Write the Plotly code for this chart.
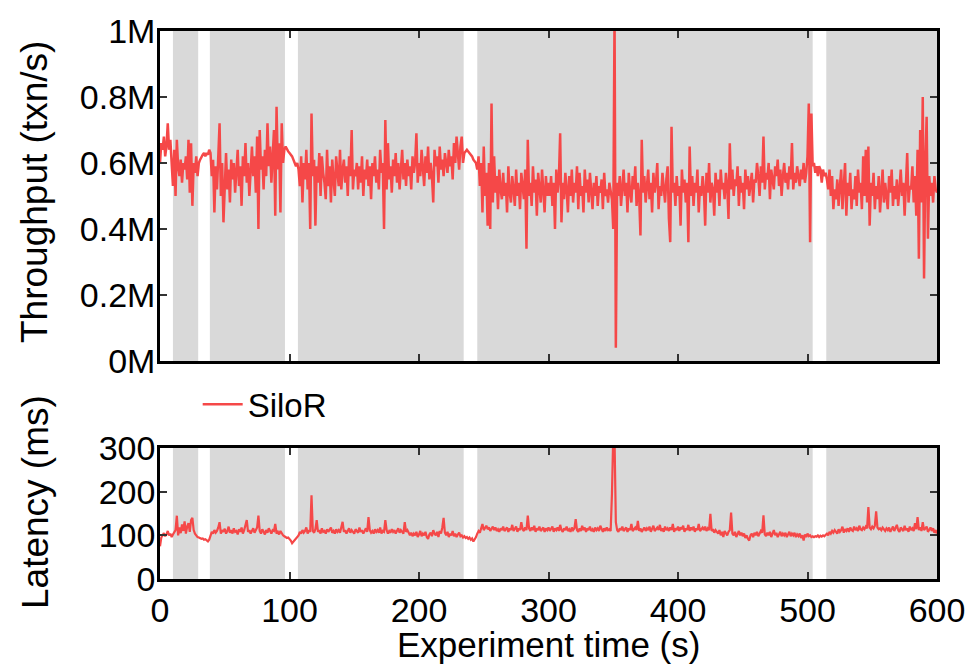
import plotly.graph_objects as go

# Throughput (thousand txn/s), one sample per second, t = 0 .. 600
THROUGHPUT_K = [
    600, 660, 640, 680, 620, 650, 720, 640, 670, 600,   # 0
    530, 640, 500, 670, 590, 560, 610, 540, 600, 580,   # 10
    620, 550, 670, 510, 660, 470, 600, 570, 620, 560,   # 20
    600, 610, 620, 625, 630, 620, 630, 625, 640, 630,   # 30
    560, 610, 450, 590, 520, 640, 720, 500, 600, 420,   # 40
    560, 630, 520, 580, 480, 610, 550, 600, 510, 570,   # 50
    640, 530, 590, 470, 620, 560, 660, 540, 600, 500,   # 60
    580, 650, 560, 620, 510, 680, 400, 700, 580, 620,   # 70
    520, 640, 560, 720, 590, 650, 540, 630, 700, 440,   # 80
    770, 580, 660, 450, 720, 600, 640, 650, 640, 635,   # 90
    630, 625, 620, 610, 600, 590, 600, 580, 530, 620,   # 100
    480, 600, 550, 640, 520, 600, 400, 750, 560, 610,   # 110
    410, 590, 540, 630, 500, 620, 570, 540, 490, 640,   # 120
    530, 590, 480, 610, 550, 500, 620, 570, 530, 640,   # 130
    520, 580, 610, 540, 590, 500, 620, 560, 700, 520,   # 140
    580, 560, 600, 520, 590, 540, 620, 500, 580, 550,   # 150
    610, 530, 590, 490, 600, 560, 620, 540, 580, 520,   # 160
    640, 570, 600, 400, 730, 520, 660, 550, 590, 510,   # 170
    610, 560, 630, 540, 600, 520, 580, 640, 550, 600,   # 180
    530, 610, 560, 590, 520, 620, 570, 600, 690, 540,   # 190
    600, 560, 640, 580, 530, 620, 570, 650, 550, 600,   # 200
    560, 480, 640, 590, 620, 540, 650, 580, 610, 560,   # 210
    630, 600, 570, 640, 590, 620, 550, 660, 600, 680,   # 220
    610, 580, 650, 680, 600, 630, 635, 640, 635, 630,   # 230
    625, 620, 610, 605, 600, 580, 620, 530, 600, 450,   # 240
    650, 500, 570, 410, 600, 400, 780, 480, 620, 510,   # 250
    560, 460, 580, 520, 490, 570, 500, 540, 450, 590,   # 260
    510, 480, 560, 520, 470, 580, 500, 540, 460, 570,   # 270
    520, 490, 580, 340, 670, 500, 540, 470, 590, 510,   # 280
    550, 440, 570, 510, 480, 580, 520, 450, 560, 500,   # 290
    540, 500, 560, 470, 540, 400, 580, 510, 550, 690,   # 300
    420, 540, 490, 570, 520, 450, 560, 500, 580, 480,   # 310
    540, 510, 590, 460, 570, 500, 530, 450, 580, 510,   # 320
    550, 480, 570, 520, 460, 540, 500, 560, 470, 530,   # 330
    510, 550, 460, 570, 500, 520, 480, 540, 510, 490,   # 340
    400, 1050, 40, 540, 500, 560, 470, 530, 580, 500,   # 350
    540, 450, 570, 510, 480, 560, 520, 590, 470, 540,   # 360
    500, 380, 670, 510, 560, 480, 530, 580, 490, 540,   # 370
    450, 570, 510, 540, 600, 460, 530, 500, 570, 520,   # 380
    480, 550, 590, 430, 360, 710, 510, 540, 470, 560,   # 390
    500, 530, 410, 580, 510, 550, 480, 540, 360, 650,   # 400
    500, 560, 470, 540, 510, 580, 450, 530, 500, 560,   # 410
    520, 410, 570, 510, 600, 480, 540, 520, 440, 570,   # 420
    510, 550, 470, 580, 520, 540, 490, 570, 530, 430,   # 430
    660, 520, 580, 500, 550, 530, 590, 470, 560, 510,   # 440
    540, 460, 580, 520, 560, 500, 540, 570, 480, 550,   # 450
    540, 600, 560, 500, 590, 540, 680, 520, 570, 550,   # 460
    600, 490, 580, 550, 520, 590, 560, 610, 530, 580,   # 470
    500, 560, 600, 540, 570, 520, 590, 550, 660, 520,   # 480
    570, 540, 590, 560, 530, 580, 550, 600, 540, 570,   # 490
    620, 780, 360, 750, 590, 600, 570, 590, 560, 590,   # 500
    580, 540, 580, 560, 570, 550, 520, 580, 500, 560,   # 510
    460, 520, 490, 550, 470, 530, 580, 460, 520, 600,   # 520
    440, 540, 500, 570, 460, 520, 490, 560, 470, 580,   # 530
    510, 540, 460, 620, 500, 640, 480, 650, 410, 540,   # 540
    500, 570, 460, 530, 490, 560, 450, 520, 580, 480,   # 550
    540, 500, 460, 560, 510, 580, 470, 530, 490, 550,   # 560
    470, 520, 580, 500, 540, 440, 560, 630, 480, 530,   # 570
    520, 590, 480, 560, 440, 640, 310, 700, 480, 800,   # 580
    250, 600, 740, 370, 560, 500, 540, 480, 560, 520,   # 590
    510,                                                # 600
]

# Latency (ms), one sample per second, t = 0 .. 600
LATENCY_MS = [
    75, 95, 100, 105, 98, 102, 110, 100, 104, 96,        # 0
    102, 108, 112, 145, 100, 118, 105, 125, 110, 132,    # 10
    104, 120, 128, 108, 135, 140, 112, 104, 100, 96,     # 20
    95, 94, 92, 93, 90, 91, 88, 86, 90, 100,             # 30
    108, 104, 112, 106, 110, 118, 130, 104, 112, 108,    # 40
    115, 104, 110, 120, 106, 112, 104, 116, 108, 110,    # 50
    102, 114, 108, 118, 104, 112, 122, 135, 108, 112,    # 60
    104, 110, 116, 106, 112, 118, 145, 110, 104, 114,    # 70
    108, 102, 112, 106, 116, 108, 104, 112, 110, 126,    # 80
    104, 108, 102, 110, 104, 100, 98, 96, 94, 95,        # 90
    92, 88, 82, 86, 90, 92, 96, 100, 108, 104,           # 100
    112, 106, 110, 118, 104, 112, 108, 192, 110, 106,    # 110
    114, 135, 108, 112, 104, 116, 108, 110, 104, 114,    # 120
    108, 112, 118, 106, 110, 104, 114, 108, 112, 106,    # 130
    116, 131, 108, 112, 104, 110, 116, 106, 112, 108,    # 140
    104, 114, 110, 106, 118, 108, 112, 104, 110, 116,    # 150
    108, 142, 112, 106, 110, 104, 114, 108, 112, 106,    # 160
    118, 104, 110, 108, 135, 112, 104, 110, 106, 114,    # 170
    108, 112, 104, 110, 116, 106, 112, 108, 104, 130,    # 180
    108, 112, 104, 100, 106, 98, 104, 100, 108, 96,      # 190
    102, 110, 98, 104, 100, 108, 96, 92, 102, 106,       # 200
    98, 112, 104, 100, 108, 96, 110, 104, 118, 140,      # 210
    106, 100, 108, 96, 104, 100, 110, 98, 104, 96,       # 220
    102, 106, 98, 100, 95, 98, 94, 96, 92, 95,           # 230
    90, 93, 86, 90, 96, 104, 110, 106, 118, 126,         # 240
    112, 116, 122, 114, 118, 110, 116, 120, 112, 118,    # 250
    110, 114, 108, 116, 112, 120, 110, 114, 118, 108,    # 260
    116, 112, 124, 110, 114, 120, 108, 116, 112, 130,    # 270
    114, 110, 118, 112, 145, 116, 110, 118, 112, 122,    # 280
    108, 116, 112, 120, 110, 114, 118, 108, 116, 112,    # 290
    118, 110, 114, 120, 108, 116, 112, 118, 110, 124,    # 300
    112, 108, 116, 112, 120, 110, 114, 108, 118, 112,    # 310
    116, 137, 112, 108, 116, 110, 122, 112, 118, 108,    # 320
    116, 112, 120, 110, 114, 108, 118, 112, 116, 110,    # 330
    122, 112, 108, 116, 110, 118, 112, 114, 110, 195,    # 340
    330, 320, 130, 112, 108, 116, 112, 120, 110, 114,    # 350
    118, 108, 116, 112, 126, 110, 114, 118, 112, 133,    # 360
    110, 116, 108, 114, 118, 110, 116, 112, 120, 108,    # 370
    116, 122, 110, 114, 118, 112, 124, 110, 116, 108,    # 380
    120, 112, 116, 110, 118, 112, 126, 108, 116, 112,    # 390
    120, 110, 118, 114, 122, 108, 116, 112, 124, 110,    # 400
    118, 112, 120, 108, 116, 112, 126, 110, 114, 118,    # 410
    112, 120, 110, 116, 112, 149, 110, 114, 106, 112,    # 420
    108, 104, 112, 100, 108, 96, 110, 104, 100, 108,     # 430
    112, 152, 104, 100, 108, 96, 104, 110, 100, 106,     # 440
    98, 104, 94, 100, 92, 88, 100, 104, 96, 106,         # 450
    100, 108, 98, 104, 110, 106, 146, 102, 98, 106,      # 460
    100, 108, 96, 104, 112, 100, 106, 96, 102, 108,      # 470
    98, 104, 100, 106, 96, 102, 108, 98, 104, 100,       # 480
    106, 96, 102, 98, 104, 94, 100, 88, 102, 96,         # 490
    104, 98, 100, 96, 98, 96, 98, 97, 100, 96,           # 500
    99, 97, 100, 98, 102, 104, 100, 108, 104, 110,       # 510
    106, 112, 108, 104, 114, 108, 112, 120, 106, 114,    # 520
    110, 116, 108, 118, 112, 110, 120, 112, 116, 110,    # 530
    122, 114, 112, 118, 114, 120, 116, 165, 118, 114,    # 540
    120, 116, 122, 155, 118, 114, 116, 112, 118, 114,    # 550
    110, 116, 112, 118, 108, 114, 120, 110, 116, 124,    # 560
    112, 108, 118, 114, 110, 122, 112, 116, 108, 120,    # 570
    112, 116, 110, 128, 114, 142, 112, 118, 110, 130,    # 580
    112, 116, 120, 108, 114, 118, 110, 116, 106, 112,    # 590
    104,                                                 # 600
]

# Shaded intervals (s)
SHADE_START = [10, 38.5, 106.5, 245, 514.5]
SHADE_END = [29.5, 96.5, 234.5, 504, 600]

X_TICKS = [0, 100, 200, 300, 400, 500, 600]
TPUT_TICKS = [0, 200000, 400000, 600000, 800000, 1000000]
TPUT_TICK_TEXT = ["0M", "0.2M", "0.4M", "0.6M", "0.8M", "1M"]
LAT_TICKS = [0, 100, 200, 300]

SERIES_NAME = "SiloR"
LINE_COLOR = "#F54848"
SHADE_COLOR = "#D9D9D9"
FONT = "Liberation Sans, Arial, Helvetica, sans-serif"

t_tput = list(range(len(THROUGHPUT_K)))
t_lat = list(range(len(LATENCY_MS)))
tput = [v * 1000 for v in THROUGHPUT_K]

fig = go.Figure()
fig.add_trace(go.Scatter(x=t_tput, y=tput, mode="lines", name=SERIES_NAME,
                         line=dict(color=LINE_COLOR, width=2.5),
                         xaxis="x", yaxis="y", showlegend=True))
fig.add_trace(go.Scatter(x=t_lat, y=LATENCY_MS, mode="lines", name=SERIES_NAME,
                         line=dict(color=LINE_COLOR, width=2.2),
                         xaxis="x2", yaxis="y2", showlegend=False))

shapes = []
for s, e in zip(SHADE_START, SHADE_END):
    for xr, yr in (("x", "y domain"), ("x2", "y2 domain")):
        shapes.append(dict(type="rect", xref=xr, yref=yr, x0=s, x1=e, y0=0, y1=1,
                           fillcolor=SHADE_COLOR, line=dict(width=0), layer="below"))

axis_common = dict(showline=True, linecolor="black", linewidth=2.5, mirror="ticks",
                   ticks="inside", ticklen=7, tickwidth=1.5, tickcolor="#333333",
                   showgrid=False, zeroline=False, automargin=False,
                   tickfont=dict(family=FONT, size=34, color="black"))

# the page places the figure 8 px from the top-left corner
W, H = 966, 659
fig.update_layout(
    width=W, height=H,
    margin=dict(l=152, r=37, t=23, b=88, autoexpand=False),
    paper_bgcolor="white", plot_bgcolor="white",
    font=dict(family=FONT, color="black"),
    shapes=shapes,
    xaxis=dict(domain=[0, 1], range=[0, 600], tickvals=X_TICKS, showticklabels=False,
               anchor="y", **axis_common),
    yaxis=dict(domain=[0.398, 1], range=[0, 1000000], tickvals=TPUT_TICKS,
               ticktext=TPUT_TICK_TEXT, anchor="x", ticklabelstandoff=-5, **axis_common),
    xaxis2=dict(domain=[0, 1], range=[0, 600], tickvals=X_TICKS, anchor="y2",
                ticklabelstandoff=-1, **axis_common),
    yaxis2=dict(domain=[0, 0.239], range=[0, 300], tickvals=LAT_TICKS, anchor="x2",
                ticklabelstandoff=-5, **axis_common),
    legend=dict(x=0.0485, y=0.319, xanchor="left", yanchor="middle",
                bgcolor="rgba(0,0,0,0)", font=dict(family=FONT, size=33, color="black"),
                itemwidth=40),
    annotations=[
        dict(text="Throughput (txn/s)", xref="paper", yref="paper",
             x=(35 - 160) / 777, y=(579 - 192) / 548, textangle=-90, showarrow=False,
             xanchor="center", yanchor="middle", font=dict(family=FONT, size=37)),
        dict(text="Latency (ms)", xref="paper", yref="paper",
             x=(35 - 160) / 777, y=(579 - 502) / 548, textangle=-90, showarrow=False,
             xanchor="center", yanchor="middle", font=dict(family=FONT, size=37)),
        dict(text="Experiment time (s)", xref="paper", yref="paper",
             x=0.5, y=(579 - 644) / 548, showarrow=False,
             xanchor="center", yanchor="middle", font=dict(family=FONT, size=35)),
    ],
)

fig.write_html("out.html")
